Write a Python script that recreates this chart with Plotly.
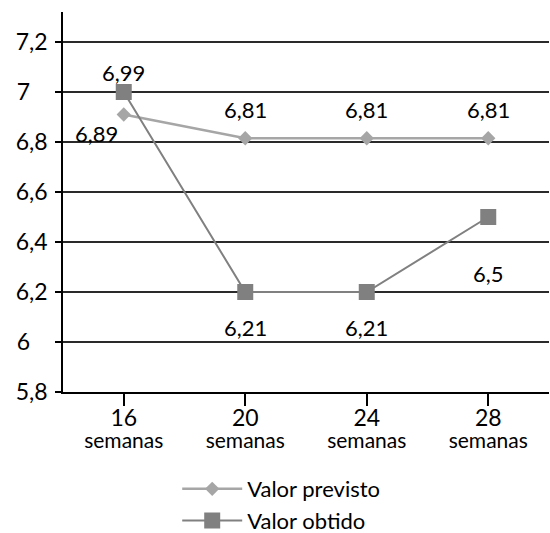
import plotly.graph_objects as go

categories = ["<span style='font-size:23px'>16</span><br><span style='font-size:21px'>semanas</span>",
              "<span style='font-size:23px'>20</span><br><span style='font-size:21px'>semanas</span>",
              "<span style='font-size:23px'>24</span><br><span style='font-size:21px'>semanas</span>",
              "<span style='font-size:23px'>28</span><br><span style='font-size:21px'>semanas</span>"]
previsto = [6.91, 6.815, 6.815, 6.815]
previsto_labels = ["6,89", "6,81", "6,81", "6,81"]
obtido = [7.0, 6.2, 6.2, 6.5]
obtido_labels = ["6,99", "6,21", "6,21", "6,5"]
y_tickvals = [5.8, 6.0, 6.2, 6.4, 6.6, 6.8, 7.0, 7.2]
y_ticktext = ["5,8", "6", "6,2", "6,4", "6,6", "6,8", "7", "7,2"]

FONT = "Lato, 'Noto Sans', sans-serif"
NB = "\u00a0"
y_ticktext_padded = [t + NB * (3 if len(t) == 1 else 0) for t in y_ticktext]

x = list(range(len(categories)))

fig = go.Figure()
fig.add_trace(go.Scatter(
    x=x, y=previsto, mode="lines+markers", name="Valor previsto",
    line=dict(color="#A6A6A6", width=2.5),
    marker=dict(symbol="diamond", size=11, color="#A6A6A6"),
))
fig.add_trace(go.Scatter(
    x=x, y=obtido, mode="lines+markers", name="Valor obtido",
    line=dict(color="#808080", width=2),
    marker=dict(symbol="square", size=16, color="#808080"),
))

prev_shifts = [(-27, -19), (0, 29), (0, 29), (0, 29)]
obt_shifts = [(0, 20), (0, -35), (0, -35), (0, -56)]
for i, (v, t) in enumerate(zip(previsto, previsto_labels)):
    fig.add_annotation(x=x[i], y=v, text=t, showarrow=False,
                       xshift=prev_shifts[i][0], yshift=prev_shifts[i][1],
                       font=dict(size=22, color="black", family=FONT))
for i, (v, t) in enumerate(zip(obtido, obtido_labels)):
    fig.add_annotation(x=x[i], y=v, text=t, showarrow=False,
                       xshift=obt_shifts[i][0], yshift=obt_shifts[i][1],
                       font=dict(size=22, color="black", family=FONT))

fig.update_layout(
    width=550, height=533,
    margin=dict(l=63, r=1, t=12, b=141, autoexpand=False),
    paper_bgcolor="white", plot_bgcolor="white",
    font=dict(family=FONT, size=19, color="black"),
    showlegend=True,
    legend=dict(orientation="v", x=0.235, y=-0.2, xanchor="left", yanchor="top",
                font=dict(size=22, color="black", family=FONT),
                bgcolor="rgba(0,0,0,0)", itemwidth=60),
    xaxis=dict(
        range=[-0.5, 3.5], tickmode="array", tickvals=x, ticktext=categories,
        tickson="boundaries", ticks="outside", ticklen=12, tickwidth=1.5,
        tickcolor="black", showline=True, linecolor="black", linewidth=1.5,
        showgrid=False, zeroline=False, tickfont=dict(size=17, family=FONT),
        fixedrange=True, automargin=False,
    ),
    yaxis=dict(
        range=[5.8, 7.32], tickmode="array", tickvals=y_tickvals,
        ticktext=y_ticktext_padded, ticks="outside", ticklen=6, tickwidth=1.5,
        tickcolor="black", showline=True, linecolor="black", linewidth=1.5,
        showgrid=True, gridcolor="#2a2a2a", gridwidth=1.5, zeroline=False,
        tickfont=dict(size=23, family=FONT), ticklabelstandoff=3,
        fixedrange=True, automargin=False,
    ),
)

fig.write_html("out.html", config={"displayModeBar": False},
               post_script="document.body.style.margin='0';")
